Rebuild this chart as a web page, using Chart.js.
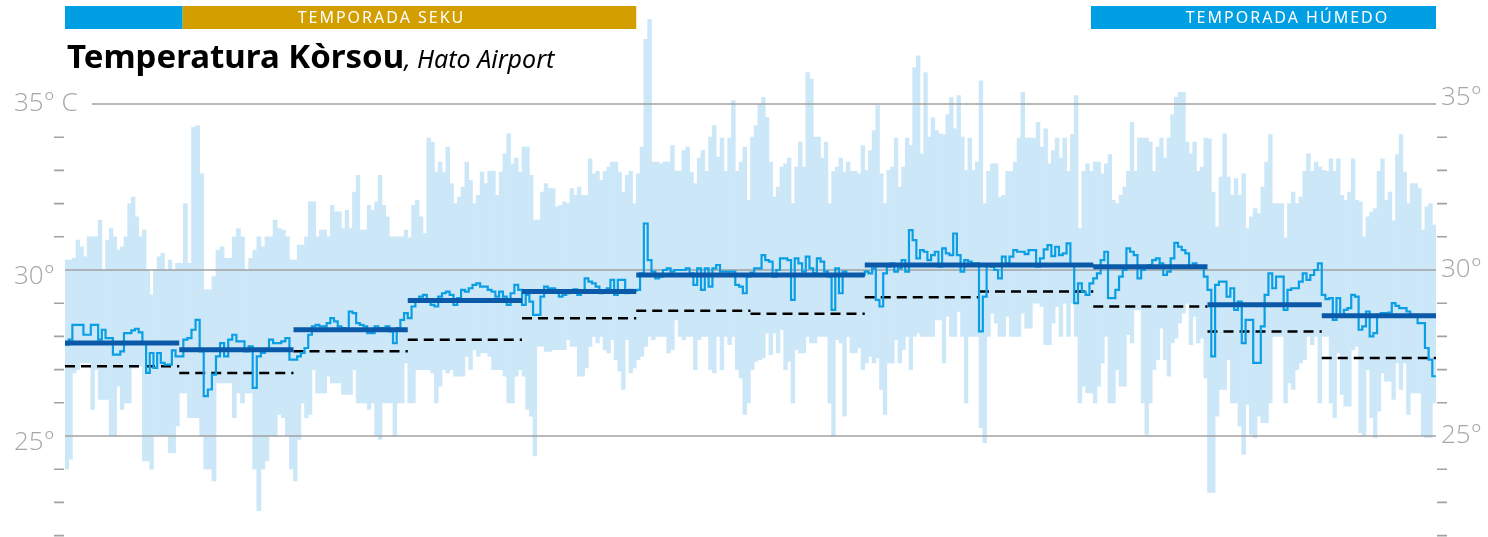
<!DOCTYPE html>
<html lang="pap">
<head>
  <meta charset="UTF-8">
  <title>Temperatura Kòrsou, Hato Airport</title>
  <script src="https://cdn.jsdelivr.net/npm/chart.js"></script>
  <style>
    body { margin: 0; background: #fff; }
    .wrap { position: relative; width: 1488px; height: 537px; }
  </style>
</head>
<body>
<div class="wrap">
  <canvas id="tempChart" width="1488" height="537"></canvas>
</div>

<script>
  // months (equal width on the x axis)
  const months = ['yan', 'feb', 'mar', 'apr', 'mei', 'yün', 'yüli', 'oug', 'sep', 'okt', 'nov', 'des'];

  // daily maximum, °C
  const dailyMax = [
    [30.3,30.3,30.35,30.9,30.7,30.4,31.0,31.0,31.0,31.5,30.0,30.9,31.25,31.0,30.6,30.7,31.0,32.0,32.2,31.6,31.0,31.2,30.0,29.25,30.0,30.4,30.5,30.0,30.3,30.0,30.2],
    [30.2,32.0,30.2,34.3,34.35,32.9,29.4,29.4,29.8,30.6,30.7,30.35,30.35,31.0,31.25,31.0,30.0,30.35,30.6,31.0,30.7,31.0,31.0,31.5,31.25,31.2,31.0,30.3],
    [30.3,30.75,30.75,31.0,32.05,32.05,31.0,31.2,31.2,31.0,31.95,31.75,31.75,31.25,31.8,31.25,32.35,32.85,31.2,31.2,31.95,31.8,32.05,32.85,31.95,31.6,31.0,31.0,31.0,31.0,31.2],
    [30.97,31.95,32.1,31.6,31.1,33.97,33.85,32.95,33.25,32.95,33.7,32.6,32.0,32.2,32.5,33.25,32.7,32.0,32.25,32.95,32.6,32.97,32.97,32.25,32.95,33.5,34.1,33.2,33.37,32.95],
    [33.7,33.7,32.85,31.5,31.5,32.35,32.6,32.45,32.45,31.9,31.95,32.05,32.0,32.45,32.25,32.5,32.25,32.25,33.35,32.9,32.97,32.7,32.97,33.1,33.25,33.25,32.95,32.35,32.85,32.97,32.0],
    [32.9,33.7,36.95,37.55,33.25,33.25,33.2,33.25,33.25,33.75,32.98,32.98,33.6,33.7,32.95,32.6,33.37,33.6,32.97,34.0,34.35,33.4,33.97,32.97,33.97,35.1,32.97,33.25,33.7,32.1],
    [34.0,34.35,35.0,35.2,34.6,33.25,32.2,32.5,33.1,33.2,33.37,32.0,33.1,33.85,33.1,35.95,35.75,34.0,34.0,33.37,33.85,32.0,32.97,33.1,33.37,32.95,33.25,32.97,32.97,32.9,33.75],
    [33.0,33.6,34.2,34.95,32.9,32.0,33.0,33.1,33.97,32.5,33.1,33.97,33.75,36.1,36.45,33.5,35.95,34.0,34.58,34.2,34.1,34.08,34.68,35.2,34.25,35.25,34.0,33.0,33.97,33.0,33.25],
    [35.7,32.0,32.97,33.2,33.2,32.2,32.25,32.97,32.97,33.25,33.97,35.35,33.97,33.97,33.97,34.45,33.7,34.25,33.2,33.6,33.97,33.37,33.97,32.97,34.08,35.25,31.25,32.97,33.2,32.97],
    [33.25,33.25,32.9,33.2,33.48,32.1,32.0,32.25,32.5,32.97,34.45,32.97,33.97,33.97,33.97,33.85,32.97,33.7,33.97,33.37,33.97,34.68,35.2,35.35,35.35,33.85,33.5,33.85,32.97,33.1,33.97],
    [33.95,32.35,31.3,32.8,34.1,32.8,32.25,32.75,32.25,32.9,31.25,31.6,31.85,31.7,32.5,33.25,34.08,32.0,32.0,32.0,30.97,32.0,32.35,32.0,32.2,32.97,33.5,32.97,33.25,33.1],
    [33.0,32.97,33.35,32.97,33.35,32.25,32.1,32.35,33.35,32.1,32.05,31.0,31.6,31.75,31.85,32.97,33.35,32.1,32.35,31.48,33.48,34.08,32.95,32.0,32.6,32.6,32.45,31.2,31.9,32.0,31.35]
  ];

  // daily minimum, °C
  const dailyMin = [
    [24.0,24.3,26.9,27.0,27.2,27.2,27.2,25.8,27.0,26.1,26.1,26.1,25.0,25.0,26.5,25.8,26.0,26.0,27.05,27.05,27.1,24.25,24.25,24.0,25.0,25.0,25.0,25.0,24.5,24.5,25.3],
    [26.3,26.3,25.55,25.55,25.55,25.0,24.0,24.0,23.65,26.6,26.6,26.6,26.6,25.55,26.3,26.0,26.3,26.3,24.0,22.75,24.0,24.25,25.0,25.0,25.65,25.55,25.0,24.0],
    [23.65,24.9,26.0,25.55,25.65,27.0,26.3,26.3,26.3,26.8,26.6,26.6,26.6,26.25,26.25,26.25,27.0,26.0,26.0,26.0,25.8,26.0,25.0,24.9,26.0,26.0,26.0,25.0,26.0,26.0,27.2],
    [26.0,26.0,27.0,27.0,27.0,27.0,26.9,26.0,26.5,27.0,26.9,27.0,26.8,26.8,26.8,27.4,27.0,27.6,27.4,27.5,27.5,27.4,27.0,27.0,27.0,26.8,26.0,26.0,26.8,27.0],
    [26.8,25.8,25.6,24.4,27.7,27.7,27.55,27.55,27.6,27.6,27.6,27.6,27.9,27.7,27.7,26.8,26.8,27.05,27.7,28.0,27.8,28.0,27.6,27.5,27.9,27.3,26.95,26.4,27.9,26.9,27.05],
    [27.3,27.4,27.7,28.0,27.9,28.0,28.0,28.0,27.5,27.6,28.5,28.0,27.9,28.0,28.0,27.0,27.9,28.0,28.0,27.0,26.9,28.0,27.0,28.0,27.75,28.0,27.0,26.75,25.65,26.0],
    [27.0,27.25,27.3,27.35,28.1,27.45,28.1,27.5,28.2,27.0,27.25,26.0,27.6,27.5,27.5,28.0,27.8,27.8,28.0,28.0,28.0,26.0,25.0,27.9,27.8,25.6,28.0,27.5,27.5,27.65,27.0],
    [27.2,27.4,27.2,27.35,26.4,25.65,27.2,27.2,27.9,27.2,27.6,28.0,27.0,28.0,28.1,28.0,28.0,28.0,28.0,28.5,28.5,27.2,28.6,28.0,28.0,28.75,28.0,26.0,28.0,28.0,28.0],
    [25.25,24.8,28.0,28.7,28.4,28.0,28.0,28.6,28.0,28.0,28.0,28.7,28.25,28.25,29.0,29.0,28.9,27.75,27.75,28.4,28.9,28.0,29.0,28.0,29.0,28.0,26.0,26.5,26.3,26.3],
    [26.0,26.5,27.2,28.0,26.0,26.0,27.0,26.5,26.5,28.05,27.8,28.8,28.8,26.0,25.05,26.0,27.0,27.3,28.25,27.3,26.8,27.8,27.95,28.4,28.7,29.0,27.75,28.6,27.8,27.95,26.75],
    [23.3,23.3,25.6,26.4,26.4,27.3,26.0,26.0,25.3,24.45,25.95,25.05,24.95,25.6,25.4,25.4,26.0,28.0,28.0,28.0,26.0,26.6,26.4,27.0,27.2,27.3,28.0,27.75,28.0,26.0],
    [28.0,28.0,26.0,25.55,27.5,26.25,25.9,25.9,27.6,27.7,25.1,25.0,27.0,25.55,24.95,25.75,26.9,26.65,26.65,26.1,27.2,26.4,27.2,25.65,26.3,26.3,26.3,25.0,24.95,24.95,26.0]
  ];

  // daily mean, °C
  const dailyMean = [
    [27.75,27.9,28.35,28.35,28.35,28.05,28.05,28.35,28.35,27.9,28.2,27.95,27.95,27.45,27.45,27.55,28.1,28.1,28.18,28.23,28.12,27.8,26.9,27.5,27.05,27.5,27.2,27.15,27.15,27.58,27.4],
    [27.4,27.9,27.95,28.2,28.5,27.55,26.2,26.4,26.85,27.4,27.8,27.4,27.9,28.05,27.85,27.85,27.55,27.7,26.45,27.4,27.5,27.6,27.9,27.8,27.8,27.85,27.95,27.3],
    [27.3,27.4,27.5,27.65,28.05,28.3,28.35,28.3,28.3,28.4,28.55,28.45,28.3,28.25,28.2,28.75,28.7,28.4,28.35,28.3,28.1,28.1,28.3,28.25,28.25,28.3,28.15,27.8,28.25,28.5,28.7],
    [28.55,28.9,29.1,29.2,29.25,29.1,28.95,28.9,29.2,29.3,29.35,29.25,28.95,29.15,29.4,29.35,29.45,29.55,29.6,29.5,29.5,29.4,29.35,29.2,29.35,29.2,28.95,29.3,29.55,29.4],
    [28.95,29.25,29.05,28.65,28.65,29.2,29.5,29.45,29.45,29.35,29.2,29.25,29.3,29.35,29.42,29.25,29.35,29.75,29.65,29.6,29.5,29.3,29.37,29.45,29.7,29.25,29.7,29.7,29.3,29.4,29.37],
    [29.4,29.9,31.4,30.3,29.95,29.75,29.8,30.0,30.05,29.95,30.0,30.0,30.0,30.05,29.9,29.55,30.05,29.4,30.05,29.5,30.05,30.15,29.95,29.95,29.95,29.95,29.55,29.5,29.3,29.8],
    [29.92,30.05,30.05,30.45,30.3,30.25,29.8,30.0,30.35,30.35,30.3,29.1,30.35,30.2,29.95,30.4,30.05,29.9,30.35,30.25,29.95,29.8,28.8,30.05,29.3,29.95,29.88,29.88,29.88,29.88,29.85],
    [29.95,29.9,30.05,29.1,28.9,29.9,30.1,30.2,29.95,30.05,30.3,29.95,31.2,30.9,30.35,30.6,30.55,30.3,30.45,30.55,30.1,30.65,30.5,30.45,31.1,30.45,29.95,30.3,30.25,30.2,30.2],
    [28.15,29.2,30.15,30.1,30.0,29.75,30.4,30.2,30.4,30.6,30.55,30.55,30.48,30.6,30.6,30.1,30.35,30.62,30.75,30.42,30.7,30.45,30.5,30.8,30.15,29.0,29.6,29.35,29.25,29.6],
    [29.75,29.9,30.3,30.55,29.15,29.15,29.4,29.8,30.0,30.65,30.55,30.45,29.75,30.0,30.1,30.15,30.3,30.35,30.2,29.85,29.95,30.35,30.82,30.7,30.6,30.5,30.1,30.2,30.12,30.12,29.8],
    [29.4,27.4,29.55,29.65,29.65,29.2,29.45,28.8,29.05,27.8,28.5,28.5,27.2,27.2,28.3,29.25,29.9,29.45,29.8,29.8,28.8,29.4,29.45,29.45,29.65,29.9,29.7,29.85,30.0,30.2],
    [29.25,29.12,29.15,28.5,29.15,28.6,28.8,28.85,29.25,29.2,28.2,28.3,28.75,28.0,28.1,28.65,28.7,28.7,28.72,29.0,28.92,28.85,28.85,28.75,28.65,28.65,28.4,28.4,27.65,27.3,26.8]
  ];

  // monthly mean of the year and long-term normal, °C
  const monthAvg = [27.8, 27.6, 28.2, 29.08, 29.35, 29.85, 29.85, 30.15, 30.15, 30.1, 28.95, 28.62];
  const monthNormal = [27.1, 26.9, 27.55, 27.9, 28.55, 28.77, 28.68, 29.18, 29.35, 28.9, 28.15, 27.35];

  // seasons bar on top (in months)
  const seasons = [
    { from: 0, to: 1.03, label: '', labelAt: 0.5, color: '#009fe3' },
    { from: 1.03, to: 5, label: 'TEMPORADA SEKU', labelAt: 2.77, color: '#d39e00' },
    { from: 8.98, to: 12, label: 'TEMPORADA HÚMEDO', labelAt: 10.7, color: '#009fe3' }
  ];

  // y axis labels
  const gridValues = [35, 30, 25];
  const leftLabels = ['35° C', '30°', '25°'];
  const rightLabels = ['35°', '30°', '25°'];
  const minorTicks = [34, 33, 32, 31, 29, 28, 27, 26, 24, 23, 22];

  // build datasets
  const rangeBars = [];
  const meanLine = [];
  const avgLine = [];
  const normalLine = [];
  months.forEach((m, mi) => {
    const n = dailyMax[mi].length;
    for (let d = 0; d < n; d++) {
      rangeBars.push({ x: mi + (d + 0.5) / n, y: [dailyMin[mi][d], dailyMax[mi][d]] });
      meanLine.push({ x: mi + d / n, y: dailyMean[mi][d] });
    }
    avgLine.push({ x: mi, y: monthAvg[mi] }, { x: mi + 1, y: monthAvg[mi] }, { x: mi + 1, y: null });
    normalLine.push({ x: mi, y: monthNormal[mi] }, { x: mi + 1, y: monthNormal[mi] }, { x: mi + 1, y: null });
  });
  const lastMonth = dailyMean[dailyMean.length - 1];
  meanLine.push({ x: months.length, y: lastMonth[lastMonth.length - 1] });

  const GREY = '#a2a2a2';

  const decor = {
    id: 'decor',
    afterDatasetDraw(chart, args) {
      if (args.index !== 0) return;
      // grid lines over the range bars
      const ctx = chart.ctx, y = chart.scales.y, area = chart.chartArea;
      ctx.save();
      ctx.strokeStyle = GREY;
      ctx.lineWidth = 1.5;
      gridValues.forEach((v, i) => {
        const py = y.getPixelForValue(v);
        ctx.beginPath();
        ctx.moveTo(i === 0 ? 92 : area.left, py);
        ctx.lineTo(area.right, py);
        ctx.stroke();
      });
      ctx.restore();
    },
    afterDraw(chart) {
      const ctx = chart.ctx, x = chart.scales.x, y = chart.scales.y, area = chart.chartArea;
      ctx.save();

      // minor ticks on both sides
      ctx.strokeStyle = GREY;
      ctx.lineWidth = 1.6;
      minorTicks.forEach(v => {
        const py = y.getPixelForValue(v);
        ctx.beginPath();
        ctx.moveTo(area.left - 11, py); ctx.lineTo(area.left - 1, py);
        ctx.moveTo(area.right + 1, py); ctx.lineTo(area.right + 11, py);
        ctx.stroke();
      });

      // axis labels
      ctx.fillStyle = '#a6a6a6';
      ctx.font = '300 26px "Open Sans", sans-serif';
      ctx.textBaseline = 'middle';
      gridValues.forEach((v, i) => {
        const py = y.getPixelForValue(v);
        ctx.textAlign = 'left';
        ctx.fillText(leftLabels[i], 14, i === 0 ? py : py + 7);
        ctx.fillText(rightLabels[i], area.right + 5, i === 0 ? py - 6 : py);
      });

      // season bars
      seasons.forEach(s => {
        const x0 = x.getPixelForValue(s.from), x1 = x.getPixelForValue(s.to);
        ctx.fillStyle = s.color;
        ctx.fillRect(x0, 6, x1 - x0, 23);
        if (s.label) {
          ctx.fillStyle = '#fff';
          ctx.font = '16px "Noto Sans", sans-serif';
          ctx.letterSpacing = '2px';
          ctx.textAlign = 'center';
          ctx.textBaseline = 'middle';
          ctx.fillText(s.label, x.getPixelForValue(s.labelAt), 18.5);
          ctx.letterSpacing = '0px';
        }
      });

      // title
      ctx.fillStyle = '#000';
      ctx.textAlign = 'left';
      ctx.textBaseline = 'alphabetic';
      ctx.font = 'bold 33px "Noto Sans", sans-serif';
      const t1 = 'Temperatura Kòrsou';
      ctx.fillText(t1, 67, 68);
      const w1 = ctx.measureText(t1).width;
      ctx.font = 'italic 25px "Noto Sans", sans-serif';
      ctx.fillText(', Hato Airport', 67 + w1, 68);

      ctx.restore();
    }
  };

  new Chart(document.getElementById('tempChart'), {
    type: 'bar',
    data: {
      datasets: [
        {
          type: 'bar',
          data: rangeBars,
          backgroundColor: '#cce7f8',
          borderWidth: 0,
          barThickness: 'flex',
          barPercentage: 1,
          categoryPercentage: 1,
          order: 4
        },
        {
          type: 'line',
          data: normalLine,
          borderColor: '#000',
          borderWidth: 2.5,
          borderDash: [10, 6],
          pointRadius: 0,
          spanGaps: false,
          order: 3
        },
        {
          type: 'line',
          data: meanLine,
          borderColor: '#0a9fe4',
          borderWidth: 2.2,
          stepped: true,
          pointRadius: 0,
          order: 2
        },
        {
          type: 'line',
          data: avgLine,
          borderColor: '#0b5aa9',
          borderWidth: 5,
          pointRadius: 0,
          spanGaps: false,
          order: 1
        }
      ]
    },
    options: {
      responsive: false,
      animation: false,
      layout: { padding: { left: 65, right: 52, top: 4.4, bottom: 1.4 } },
      scales: {
        x: { type: 'linear', min: 0, max: 12, offset: false, display: false },
        y: { min: 22, max: 38, display: false }
      },
      plugins: {
        legend: { display: false },
        tooltip: { enabled: false }
      }
    },
    plugins: [decor]
  });
</script>
</body>
</html>
